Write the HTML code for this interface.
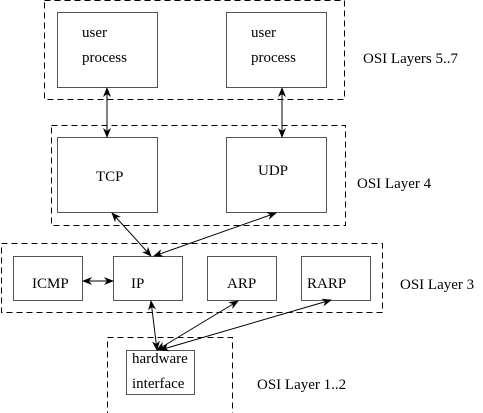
<!DOCTYPE html>
<html><head><meta charset="utf-8"><style>
html,body{margin:0;padding:0;background:#fff;}
body{position:relative;width:483px;height:413px;overflow:hidden;}
svg{display:block;position:absolute;left:0;top:0;}
.t{position:absolute;font-family:"Liberation Serif","DejaVu Serif",serif;font-size:15px;line-height:15px;color:#000;white-space:nowrap;}
</style></head><body>
<svg width="483" height="413" viewBox="0 0 483 413" xmlns="http://www.w3.org/2000/svg">
<defs>
<marker id="a" markerWidth="10" markerHeight="8" refX="9" refY="4" orient="auto-start-reverse" markerUnits="userSpaceOnUse">
<path d="M0,0 L10,4 L0,8 L3,4 z" fill="#000"/>
</marker>
</defs>
<g fill="none" stroke="#000" stroke-dasharray="6,4" stroke-width="1">
<rect x="44.5" y="0.5" width="300" height="99"/>
<rect x="51.5" y="125.5" width="294" height="100"/>
<rect x="1.5" y="243.5" width="381" height="69"/>
<rect x="107.5" y="337.5" width="125" height="80"/>
</g>
<g fill="#fff" stroke="#555" stroke-width="1">
<rect x="57.5" y="12.5" width="100" height="75"/>
<rect x="226.5" y="12.5" width="100" height="75"/>
<rect x="57.5" y="137.5" width="100" height="75"/>
<rect x="226.5" y="137.5" width="100" height="75"/>
<rect x="13.5" y="256.5" width="69" height="44"/>
<rect x="113.5" y="256.5" width="69" height="44"/>
<rect x="207.5" y="256.5" width="69" height="44"/>
<rect x="301.5" y="256.5" width="69" height="44"/>
<rect x="126.5" y="350.5" width="68" height="44"/>
</g>
<g stroke="#000" stroke-width="1" marker-start="url(#a)" marker-end="url(#a)">
<line x1="107" y1="88" x2="107" y2="137"/>
<line x1="282" y1="88" x2="282" y2="137"/>
<line x1="112" y1="213" x2="151" y2="256"/>
<line x1="276" y1="213" x2="154" y2="256"/>
<line x1="83" y1="281" x2="113" y2="281"/>
<line x1="151" y1="301" x2="157" y2="350"/>
<line x1="238" y1="301" x2="157" y2="350"/>
<line x1="331" y1="300" x2="160" y2="350"/>
</g>
</svg>
<div class="t" style="left:82px;top:26px">user</div>
<div class="t" style="left:82px;top:51px">process</div>
<div class="t" style="left:251px;top:26px">user</div>
<div class="t" style="left:251px;top:51px">process</div>
<div class="t" style="left:363px;top:52px">OSI Layers 5..7</div>
<div class="t" style="left:96px;top:170px">TCP</div>
<div class="t" style="left:258px;top:164px">UDP</div>
<div class="t" style="left:357px;top:177px">OSI Layer 4</div>
<div class="t" style="left:32px;top:277px">ICMP</div>
<div class="t" style="left:131px;top:277px">IP</div>
<div class="t" style="left:227px;top:277px">ARP</div>
<div class="t" style="left:307px;top:277px">RARP</div>
<div class="t" style="left:400px;top:278px">OSI Layer 3</div>
<div class="t" style="left:132px;top:352px">hardware</div>
<div class="t" style="left:132px;top:377px">interface</div>
<div class="t" style="left:257px;top:378px">OSI Layer 1..2</div>
</body></html>
